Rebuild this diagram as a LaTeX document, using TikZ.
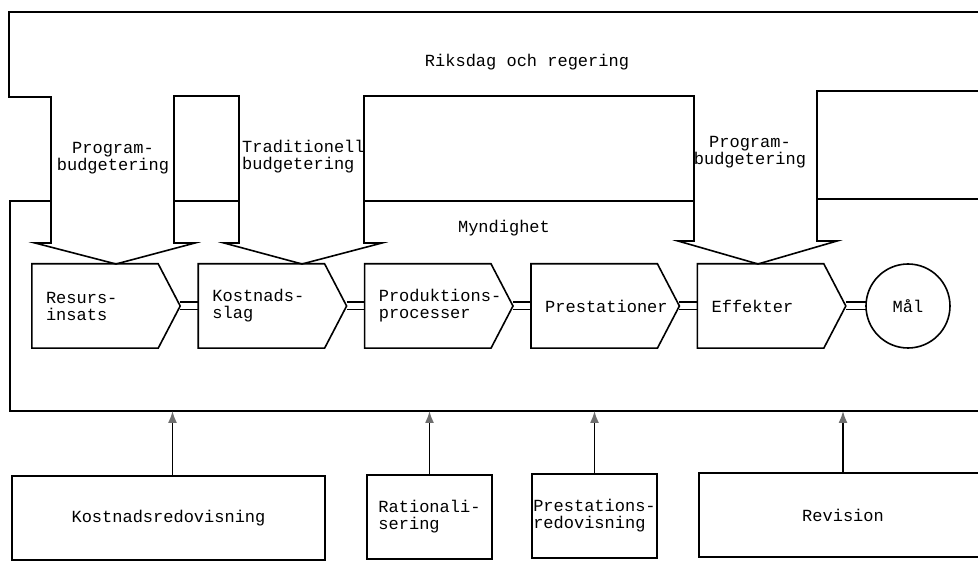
\documentclass[tikz,border=0pt]{standalone}
\usepackage{fontspec}
\setmonofont{Liberation Mono}
\usetikzlibrary{positioning,arrows.meta}
\definecolor{inkgray}{RGB}{110,110,110}

\tikzset{
  outline/.style={line width=1.6pt,line join=miter},
  txt/.style={font=\ttfamily\fontsize{17}{17}\selectfont,inner sep=0pt},
  stage/.style={txt,minimum width=148pt,minimum height=84pt,text width=120pt,align=left},
  pipe/.style={line width=1.5pt,double,double distance=6pt},
  feed/.style={line width=1.6pt,-{Latex[length=12pt,width=9pt,color=inkgray]}},
  office/.style={txt,draw,line width=1.6pt,minimum height=84pt,align=left}
}

\begin{document}
\begin{tikzpicture}[x=1pt,y=-1pt]
  \useasboundingbox (0,0) rectangle (978,561);
  \fill[white] (0,0) rectangle (978,561);

  \draw[outline] (980,12) -- (9,12) -- (9,97) -- (51,97) -- (51,243) -- (35,243)
    -- (116,264) -- (195,243) -- (174,243) -- (174,96) -- (239,96) -- (239,243)
    -- (224,243) -- (302,264) -- (382,243) -- (364,243) -- (364,96) -- (694,96)
    -- (694,241) -- (678,241) -- (758,264) -- (837,241) -- (817,241) -- (817,91)
    -- (980,91);
  \draw[outline] (51,201) -- (10,201) -- (10,411) -- (980,411);
  \draw[outline] (174,201) -- (239,201);
  \draw[outline] (364,201) -- (694,201);
  \draw[outline] (817,199) -- (980,199);
  \coordinate (mynbot) at (0,411);

  \node[txt] (riks) at (527,62) {Riksdag och regering};
  \node[txt] (myn) at (504,228) {Myndighet};
  \node[txt,align=center] (pbudA) at (113,158) {Program-\\budgetering};
  \node[txt,align=left,anchor=west] (tbud) at (242,157) {Traditionell\\budgetering};
  \node[txt,align=center] (pbudB) at (750,152) {Program-\\budgetering};

  \node[stage] (res) at (106,306) {Resurs-\\insats};
  \node[stage,right=18pt of res] (kos) {Kostnads-\\slag};
  \node[stage,right=18pt of kos] (pro) {Produktions-\\processer};
  \node[stage,right=18pt of pro] (pre) {Prestationer};
  \node[stage,right=18pt of pre] (eff) {Effekter};
  \node[txt,circle,minimum size=84pt,right=20pt of eff] (goal) {Mål};

  \foreach \a/\b in {res/kos,kos/pro,pro/pre,pre/eff,eff/goal}
    \draw[pipe] (\a.east) -- (\b.west);
  \foreach \n in {res,kos,pro,pre,eff}
    \draw[outline] (\n.north west) -- ([xshift=-22pt]\n.north east) -- (\n.east)
      -- ([xshift=-22pt]\n.south east) -- (\n.south west) -- cycle;
  \draw[outline] (goal) circle[radius=42pt];

  \node[office,minimum width=313pt] (kred) at (168.5,518) {Kostnadsredovisning};
  \node[office,minimum width=125pt] (rat) at (429.5,517) {Rationali-\\sering};
  \node[office,minimum width=125pt] (pres) at (594.5,516) {Prestations-\\redovisning};
  \node[office,minimum width=288pt] (rev) at (843,515) {Revision};

  \draw[feed] ([xshift=4pt]kred.north) -- ([xshift=4pt]kred.north |- mynbot);
  \foreach \b in {rat,pres,rev}
    \draw[feed] (\b.north) -- (\b.north |- mynbot);
\end{tikzpicture}
\end{document}
